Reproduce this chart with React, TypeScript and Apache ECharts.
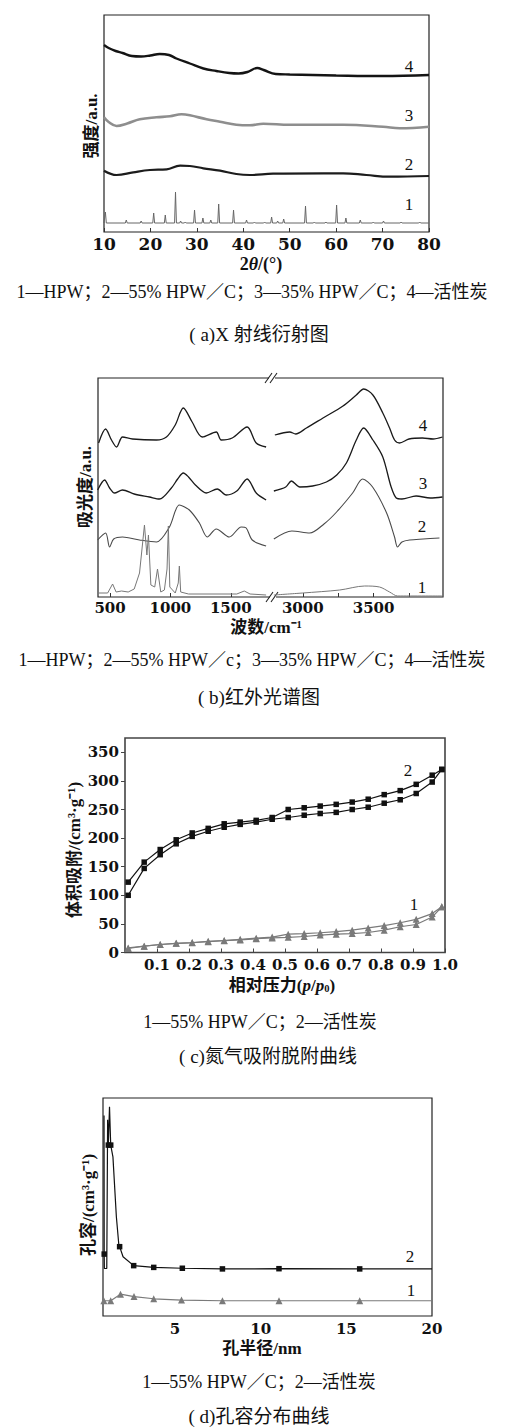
import React, { useEffect, useRef } from "react";
import * as echarts from "echarts";

// ---------- (a) XRD ----------
const xrdTicks = [10, 20, 30, 40, 50, 60, 70, 80];
const carbonAngle = [10, 11, 12.5, 14, 16, 18, 20, 22, 24, 25.6, 28.5, 31.4, 34.2, 37, 39, 40.9, 43, 44.4, 47, 50, 55, 60, 70, 80];
const carbonIntensity = [187, 184, 181, 179, 176, 175.5, 176.5, 178, 177, 173.5, 168.5, 163.5, 161, 159, 158.5, 160, 164, 162, 158, 157.5, 157, 156.5, 156, 157];
const hpw35Angle = [10, 11, 12.7, 15, 17.7, 21.3, 24.2, 26.7, 28.5, 32.1, 35, 38.5, 41.4, 44.3, 50, 61.5, 70.1, 73.7, 80];
const hpw35Intensity = [114.7, 110, 106, 108.5, 112.7, 114.7, 115.7, 117.7, 116.7, 112.7, 110.3, 107.3, 106.7, 108.3, 107.3, 107.3, 105.3, 103.7, 105.3];
const hpw55Angle = [10, 12.7, 16.3, 19.9, 23.5, 26.4, 28.5, 31.4, 35, 38.5, 41.4, 46.4, 57.2, 61.5, 66.5, 71.5, 80];
const hpw55Intensity = [61.3, 57, 59.7, 62, 62.7, 66.3, 66, 63.7, 61.3, 58, 57, 58.3, 58.7, 58.7, 57, 55.3, 56];
const hpwBaseline = 9;
const hpwPeakAngle = [10.3, 14.8, 18.0, 20.7, 23.2, 25.4, 26.5, 27.5, 29.5, 31.3, 33.0, 34.7, 37.9, 40.7, 42.4, 44.6, 46.1, 47.4, 48.7, 53.4, 55.3, 57.8, 60.1, 62.1, 65.2, 68.0, 70.2, 74.0, 78.0];
const hpwPeakIntensity = [20, 12, 11, 19, 17, 40, 11, 10, 22, 14, 12, 28, 22, 12, 10, 10, 15, 11, 13, 26, 10, 10, 27, 14, 12, 10, 11, 10, 10];

// ---------- (b) IR (wavenumber, absorbance a.u.) ----------
const irLeftTicks = [500, 1000, 1500];
const irRightTicks = [3000, 3250, 3500, 3750];
const irRightLabels = [3000, 3500];
const ir4Low = [[405, 154], [463, 168], [512, 157], [554, 150], [603, 160], [686, 158], [884, 157], [967, 160], [1040, 172], [1107, 189], [1180, 175], [1264, 160], [1380, 165], [1421, 157], [1512, 159], [1636, 170], [1711, 154], [1793, 150]];
const ir4High = [[2803, 162], [2908, 165], [2950, 163], [3026, 169], [3143, 179], [3284, 191], [3378, 202], [3430, 208], [3495, 202], [3565, 184], [3613, 169], [3648, 157], [3683, 154], [3750, 158], [3845, 159], [3920, 158], [3986, 160]];
const ir3Low = [[397, 107], [455, 117], [496, 109], [537, 104], [603, 107], [700, 103], [826, 100], [909, 98], [1008, 109], [1060, 118], [1107, 124], [1150, 120], [1207, 112], [1297, 104], [1388, 108], [1463, 102], [1550, 106], [1636, 118], [1711, 104], [1793, 97]];
const ir3High = [[2796, 106], [2880, 110], [2920, 116], [2979, 110], [3070, 111], [3167, 115], [3240, 122], [3308, 134], [3378, 157], [3430, 169], [3495, 157], [3565, 140], [3624, 110], [3660, 99], [3700, 98], [3800, 101], [3900, 99], [3986, 100]];
const ir2Low = [[397, 57], [463, 64], [496, 50], [530, 58], [603, 60], [744, 57], [884, 55], [992, 70], [1074, 92], [1157, 87], [1240, 74], [1306, 60], [1380, 68], [1488, 60], [1587, 70], [1628, 69], [1678, 57], [1793, 51]];
const ir2High = [[2796, 58], [2923, 66], [3049, 64], [3150, 73], [3239, 85], [3352, 104], [3423, 118], [3493, 110], [3592, 84], [3648, 60], [3669, 50], [3700, 55], [3754, 57], [3850, 58], [3965, 59]];
const ir1Low = [[400, 4], [480, 4], [521, 13], [550, 5], [595, 6], [650, 5], [700, 8], [744, 24], [785, 72], [805, 42], [818, 62], [838, 12], [870, 10], [893, 28], [920, 5], [950, 7], [972, 28], [983, 71], [995, 10], [1040, 4], [1065, 14], [1074, 31], [1085, 5], [1150, 3], [1550, 3], [1612, 6], [1660, 3], [1793, 2]];
const ir1High = [[2796, 2], [3000, 4], [3261, 7], [3437, 11], [3542, 10], [3613, 5], [3669, 1], [3990, 1]];

// ---------- (c) N2 isotherms ----------
const relPressure = [0.01, 0.06, 0.11, 0.16, 0.21, 0.26, 0.31, 0.36, 0.41, 0.46, 0.51, 0.56, 0.61, 0.66, 0.71, 0.76, 0.81, 0.86, 0.91, 0.96, 0.99];
const acAdsorption = [100, 147, 171, 190, 203, 212, 219, 224, 228, 233, 236, 240, 243, 245, 250, 254, 261, 267, 278, 298, 320];
const acDesorption = [123, 158, 180, 197, 209, 217, 225, 228, 231, 236, 250, 253, 256, 259, 263, 268, 276, 283, 294, 310, 320];
const hpwAdsorption = [7, 11, 14, 16, 17, 19, 20.6, 22, 24, 25.5, 26.5, 28, 30.5, 32, 33, 35, 39, 45, 49, 62, 80];
const hpwDesorption = [8, 11, 14, 16, 17.5, 19.5, 21, 23, 25, 27, 32, 33, 34.5, 36.5, 39, 43, 47, 52, 58, 68, 80];
const pressureTicks = [0.1, 0.2, 0.3, 0.4, 0.5, 0.6, 0.7, 0.8, 0.9, 1.0];
const volumeTicks = [0, 50, 100, 150, 200, 250, 300, 350];

// ---------- (d) pore size distribution ----------
const radiusTicks = [5, 10, 15, 20];
const acRadius = [0.86, 0.87, 0.88, 1.02, 1.07, 1.11, 1.18, 1.25, 1.38, 1.58, 1.73, 1.77, 1.97, 2.59, 3.76, 5.43, 7.77, 11.07, 15.78, 20];
const acPoreVol = [92, 28.4, 21.8, 21.8, 90, 78.4, 96, 78.4, 73, 45.5, 32.1, 31.8, 27.2, 23.1, 22.3, 21.9, 21.6, 21.7, 21.6, 21.6];
const acMeasured = [0.87, 1.11, 1.25, 1.77, 2.59, 3.76, 5.43, 7.77, 11.07, 15.78];
const hpwRadius = [0.85, 1.25, 1.82, 2.61, 3.76, 5.38, 7.77, 11.07, 15.78, 20];
const hpwPoreVol = [7, 7, 10, 8.9, 7.9, 7.3, 7, 7, 7, 7];
const hpwMeasured = [0.85, 1.25, 1.82, 2.61, 3.76, 5.38, 7.77, 11.07, 15.78];

const SERIF = "'Liberation Serif','Noto Sans CJK SC',serif";
const TICKF = "'DejaVu Serif',serif";

function buildPeaks(start: number, end: number, base: number, pos: number[], h: number[], hw: number) {
  const pts: number[][] = [[start, base]];
  pos.forEach((p, i) => {
    pts.push([p - hw, base], [p, h[i]], [p + hw, base]);
  });
  pts.push([end, base]);
  return pts;
}

const zip = (a: number[], b: number[]) => a.map((v, i) => [v, b[i]]);

function lineS(idx: number, data: any[], color: string, width: number, smooth: any, extra: any = {}) {
  return {
    type: "line",
    xAxisIndex: idx,
    yAxisIndex: idx,
    data,
    symbol: "none",
    showSymbol: false,
    smooth,
    silent: true,
    lineStyle: { color, width },
    ...extra,
  };
}

function markedLine(idx: number, xs: number[], ys: number[], marked: number[], color: string, symbol: string, size: number) {
  return {
    type: "line",
    xAxisIndex: idx,
    yAxisIndex: idx,
    symbol,
    symbolSize: size,
    showSymbol: true,
    showAllSymbol: true,
    silent: true,
    lineStyle: { color, width: 1.2 },
    itemStyle: { color },
    data: xs.map((x, i) => (marked.indexOf(x) >= 0 ? { value: [x, ys[i]] } : { value: [x, ys[i]], symbol: "none" })),
  };
}

function txt(x: number, y: number, text: string, size: number, extra: any = {}, rotation = 0) {
  return {
    type: "text",
    x,
    y,
    rotation,
    silent: true,
    style: {
      text,
      fontSize: size,
      fontFamily: SERIF,
      fill: "#111",
      align: "center",
      verticalAlign: "middle",
      ...extra,
    },
  };
}

const tickLabel = (size: number, extra: any = {}) => ({
  fontSize: size,
  fontWeight: "bold",
  fontFamily: TICKF,
  color: "#111",
  formatter: (v: number) => String(v),
  ...extra,
});

export default function App() {
  const ref = useRef<HTMLDivElement>(null);
  useEffect(() => {
    const chart = echarts.init(ref.current!, null, { renderer: "svg" });
    const bold = { fontWeight: "bold" };
    const nameRich = (size: number) => ({
      c: { fontSize: size, fontWeight: "bold", fontFamily: SERIF },
      n: { fontSize: size, fontWeight: "bold", fontFamily: SERIF },
      i: { fontSize: size, fontWeight: "bold", fontStyle: "italic", fontFamily: SERIF },
      s: { fontSize: size * 0.62, fontWeight: "bold", fontFamily: SERIF, verticalAlign: "bottom" },
    });
    const option: any = {
      animation: false,
      backgroundColor: "#fff",
      grid: [
        { left: 104, top: 15, width: 325, height: 217, show: true, borderColor: "#222", borderWidth: 1.2 },
        { left: 98, top: 378, width: 175, height: 219 },
        { left: 273, top: 378, width: 170, height: 219 },
        { left: 125, top: 738, width: 320, height: 214.5, show: true, borderColor: "#444", borderWidth: 1.6 },
        { left: 103, top: 1098, width: 329, height: 218, show: true, borderColor: "#222", borderWidth: 1.2 },
      ],
      xAxis: [
        {
          gridIndex: 0, type: "value", min: 10, max: 80, interval: 10,
          axisLine: { show: false }, splitLine: { show: false },
          axisTick: { inside: true, length: 4, lineStyle: { color: "#333" } },
          axisLabel: { margin: 3, ...tickLabel(17) },
        },
        {
          gridIndex: 1, type: "value", min: 400, max: 1850,
          axisLine: { show: false }, splitLine: { show: false },
          axisTick: { inside: true, length: 4, customValues: irLeftTicks, lineStyle: { color: "#333" } },
          axisLabel: { margin: 3, customValues: irLeftTicks, ...tickLabel(15) },
        },
        {
          gridIndex: 2, type: "value", min: 2790, max: 3990,
          axisLine: { show: false }, splitLine: { show: false },
          axisTick: { inside: true, length: 4, customValues: irRightTicks, lineStyle: { color: "#333" } },
          axisLabel: { margin: 3, customValues: irRightLabels, ...tickLabel(15) },
        },
        {
          gridIndex: 3, type: "value", min: 0, max: 1,
          axisLine: { show: false }, splitLine: { show: false },
          axisTick: { inside: true, length: 4, customValues: pressureTicks, lineStyle: { color: "#444" } },
          axisLabel: { margin: 5, customValues: pressureTicks, ...tickLabel(15, { formatter: (v: number) => v.toFixed(1) }) },
        },
        {
          gridIndex: 4, type: "value", min: 0.8, max: 20,
          axisLine: { show: false }, splitLine: { show: false },
          axisTick: { show: false },
          axisLabel: { margin: 5, customValues: radiusTicks, ...tickLabel(15) },
        },
      ],
      yAxis: [
        { gridIndex: 0, type: "value", min: 0, max: 217, show: false },
        { gridIndex: 1, type: "value", min: 0, max: 219, show: false },
        { gridIndex: 2, type: "value", min: 0, max: 219, show: false },
        {
          gridIndex: 3, type: "value", min: 0, max: 375,
          axisLine: { show: false }, splitLine: { show: false },
          axisTick: { show: true, length: 4, customValues: volumeTicks, lineStyle: { color: "#444" } },
          axisLabel: { margin: 6, customValues: volumeTicks, ...tickLabel(15) },
        },
        { gridIndex: 4, type: "value", min: 0, max: 100, show: false },
      ],
      series: [
        // (a)
        lineS(0, zip(carbonAngle, carbonIntensity), "#141414", 2.4, 0.4),
        lineS(0, zip(hpw35Angle, hpw35Intensity), "#8e8e8e", 2.6, 0.4),
        lineS(0, zip(hpw55Angle, hpw55Intensity), "#1c1c1c", 2.2, 0.4),
        lineS(0, buildPeaks(10, 80, hpwBaseline, hpwPeakAngle, hpwPeakIntensity, 0.2), "#666", 1, false),
        // (b)
        lineS(1, ir4Low, "#1a1a1a", 1.3, 0.3),
        lineS(2, ir4High, "#1a1a1a", 1.3, 0.3),
        lineS(1, ir3Low, "#1a1a1a", 1.3, 0.3),
        lineS(2, ir3High, "#1a1a1a", 1.3, 0.3),
        lineS(1, ir2Low, "#4a4a4a", 1.1, 0.3),
        lineS(2, ir2High, "#4a4a4a", 1.1, 0.3),
        lineS(1, ir1Low, "#777", 1, false),
        lineS(2, ir1High, "#777", 1, 0.3),
        // (c)
        markedLine(3, relPressure, acAdsorption, relPressure, "#111", "rect", 5.5),
        markedLine(3, relPressure, acDesorption, relPressure, "#111", "rect", 5.5),
        markedLine(3, relPressure, hpwAdsorption, relPressure, "#7a7a7a", "triangle", 7),
        markedLine(3, relPressure, hpwDesorption, relPressure, "#7a7a7a", "triangle", 7),
        // (d)
        markedLine(4, acRadius, acPoreVol, acMeasured, "#111", "rect", 5.5),
        markedLine(4, hpwRadius, hpwPoreVol, hpwMeasured, "#7a7a7a", "triangle", 7),
      ],
      graphic: [
        // (a)
        txt(91, 126, "强度/a.u.", 17, bold, Math.PI / 2),
        txt(261, 264, "{n|2}{i|θ}{n|/(°)}", 18, { rich: nameRich(18) }),
        txt(252, 292, "1—HPW；2—55% HPW／C；3—35% HPW／C；4—活性炭", 18),
        txt(259, 334, "( a)X 射线衍射图", 19),
        txt(409, 66, "4", 17),
        txt(409, 115, "3", 17),
        txt(409, 164, "2", 17),
        txt(409, 204, "1", 17),
        // (b)
        { type: "rect", silent: true, shape: { x: 98, y: 378, width: 345, height: 219 }, style: { fill: "none", stroke: "#222", lineWidth: 1.2 } },
        { type: "rect", silent: true, shape: { x: 269, y: 375.5, width: 6, height: 5 }, style: { fill: "#fff" } },
        { type: "rect", silent: true, shape: { x: 270, y: 594.5, width: 6, height: 5 }, style: { fill: "#fff" } },
        { type: "line", silent: true, shape: { x1: 265, y1: 383, x2: 272, y2: 373 }, style: { stroke: "#222", lineWidth: 1.1 } },
        { type: "line", silent: true, shape: { x1: 270, y1: 383, x2: 277, y2: 373 }, style: { stroke: "#222", lineWidth: 1.1 } },
        { type: "line", silent: true, shape: { x1: 266, y1: 602, x2: 273, y2: 592 }, style: { stroke: "#222", lineWidth: 1.1 } },
        { type: "line", silent: true, shape: { x1: 271, y1: 602, x2: 278, y2: 592 }, style: { stroke: "#222", lineWidth: 1.1 } },
        txt(85, 487, "吸光度/a.u.", 17, bold, Math.PI / 2),
        txt(266, 627, "波数/cm⁻¹", 17, bold),
        txt(252, 660, "1—HPW；2—55% HPW／c；3—35% HPW／C；4—活性炭", 18),
        txt(259, 697, "( b)红外光谱图", 19),
        txt(423, 425, "4", 17),
        txt(423, 483, "3", 17),
        txt(422, 526, "2", 17),
        txt(422, 587, "1", 17),
        // (c)
        txt(74, 850, "体积吸附/(cm³·g⁻¹)", 17, bold, Math.PI / 2),
        txt(282, 985, "{c|相对压力}{n|(}{i|p}{n|/}{i|p}{s|0}{n|)}", 17, { rich: nameRich(17) }),
        txt(260, 1022, "1—55% HPW／C；2—活性炭", 18),
        txt(268, 1056, "( c)氮气吸附脱附曲线", 19),
        txt(408, 770, "2", 17),
        txt(414, 904, "1", 17),
        // (d)
        txt(88, 1205, "孔容/(cm³·g⁻¹)", 17, bold, Math.PI / 2),
        txt(262, 1348, "孔半径/nm", 17, bold),
        txt(259, 1382, "1—55% HPW／C；2—活性炭", 18),
        txt(259, 1416, "( d)孔容分布曲线", 19),
        txt(410, 1256, "2", 17),
        txt(411, 1290, "1", 17),
      ],
    };
    chart.setOption(option);
    return () => chart.dispose();
  }, []);
  return <div ref={ref} style={{ position: "absolute", left: 0, top: 0, width: 510, height: 1427 }} />;
}
